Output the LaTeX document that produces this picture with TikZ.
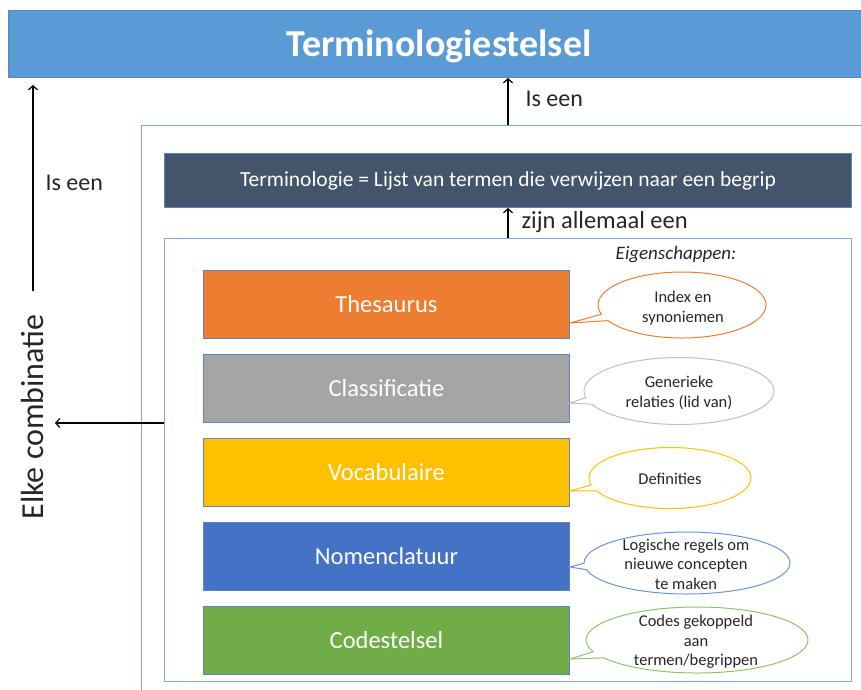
\documentclass[tikz,border=0pt]{standalone}
\usepackage{fontspec}
\setmainfont{Carlito}
\usetikzlibrary{shapes.callouts,arrows.meta}

\definecolor{titleblue}{HTML}{5B9BD5}
\definecolor{slate}{HTML}{44546A}
\definecolor{frameblue}{HTML}{5A86BC}
\definecolor{linkblue}{HTML}{7FA6D6}
\definecolor{cOrange}{HTML}{ED7D31}
\definecolor{cGray}{HTML}{A5A5A5}
\definecolor{cGold}{HTML}{FFC000}
\definecolor{cBlue}{HTML}{4472C4}
\definecolor{cGreen}{HTML}{70AD47}
\definecolor{lnGray}{HTML}{BFBFBF}
\definecolor{lnBlue}{HTML}{6C92D8}
\definecolor{lnGreen}{HTML}{8CC46A}
\definecolor{ink}{HTML}{262626}

\newcommand{\fsz}[2]{\fontsize{#1}{#2}\selectfont}

\tikzset{
  x=1pt, y=-1pt,
  container/.style={draw=linkblue, line width=1.1pt},
  kindbox/.style={draw=frameblue, line width=0.9pt, minimum width=366, minimum height=68,
    inner sep=0pt, text=white, font=\fsz{24.5}{29}},
  bubble/.style={ellipse callout, draw, line width=1pt, fill=white, inner sep=0pt,
    callout pointer arc=12},
  bubbletext/.style={align=center, inner sep=0pt, text=ink, font=\fsz{16.5}{19.5}},
  relarrow/.style={-{Straight Barb[length=4pt,width=9pt]}, line width=1.2pt},
}

\begin{document}
\begin{tikzpicture}
\useasboundingbox (0,0) rectangle (861,689);
\clip (0,0) rectangle (861,689);

% top level: the whole system
\node[fill=titleblue, draw=frameblue, line width=1pt, anchor=north west,
      minimum width=864, minimum height=67, inner sep=0pt] (title) at (8,10) {};
\node[text=white, font=\bfseries\fsz{38}{44}] (titletext) at (439,46) {Terminologiestelsel};

% containers
\node[container, anchor=north west, minimum width=740, minimum height=600, inner sep=0pt] (outer) at (141,125) {};
\node[fill=slate, draw=frameblue, line width=1pt, anchor=north west, minimum width=687,
      minimum height=54, inner sep=0pt, text=white, font=\fsz{21.5}{25}] (term) at (164,153)
      {Terminologie = Lijst van termen die verwijzen naar een begrip};
\node[container, anchor=north west, minimum width=687, minimum height=443, inner sep=0pt] (inner) at (164,238) {};

\node[font=\itshape\fsz{19}{22}, text=ink] (eig) at (676,255) {Eigenschappen:};

% kinds of terminology
\node[kindbox, fill=cOrange, anchor=north west] (thes) at (203,270) {Thesaurus};
\node[kindbox, fill=cGray,   anchor=north west] (clas) at (203,354) {Classificatie};
\node[kindbox, fill=cGold,   anchor=north west] (voca) at (203,438) {Vocabulaire};
\node[kindbox, fill=cBlue,   anchor=north west] (nome) at (203,522) {Nomenclatuur};
\node[kindbox, fill=cGreen,  anchor=north west] (code) at (203,606) {Codestelsel};

% properties
\node[bubble, draw=cOrange, minimum width=168, minimum height=66,
      callout absolute pointer={(570,323)}] (bthes) at (682,305) {};
\node[bubbletext] (tthes) at (683,308) {Index en\\synoniemen};
\node[bubble, draw=lnGray, minimum width=190, minimum height=67,
      callout absolute pointer={(570,403)}] (bclas) at (679,391) {};
\node[bubbletext] (tclas) at (679,393) {Generieke\\relaties (lid van)};
\node[bubble, draw=cGold, minimum width=162, minimum height=61,
      callout absolute pointer={(570,491)}] (bvoca) at (670,478) {};
\node[bubbletext] (tvoca) at (670,479) {Definities};
\node[bubble, draw=lnBlue, minimum width=206, minimum height=62,
      callout absolute pointer={(570,567)}] (bnome) at (687,563) {};
\node[bubbletext] (tnome) at (686,564) {Logische regels om\\nieuwe concepten\\te maken};
\node[bubble, draw=lnGreen, minimum width=222, minimum height=66,
      callout absolute pointer={(570,659)}] (bcode) at (697,640) {};
\node[bubbletext] (tcode) at (696,642) {Codes gekoppeld\\aan\\termen/begrippen};

% relations
\draw[relarrow] (inner.north -| term.south) -- (term.south);
\node[anchor=west, font=\fsz{24.5}{28}, text=ink] (allemaal) at (518,222) {zijn allemaal een};

\draw[relarrow] (term.north |- outer.north) -- (term.north |- title.south);
\node[anchor=west, font=\fsz{24}{28}, text=ink] (iseen1) at (522,99) {Is een};

\coordinate (lefttop) at (33,85);
\coordinate (leftbot) at (33,291);
\draw[relarrow] (leftbot) -- (lefttop);
\node[anchor=west, font=\fsz{24}{28}, text=ink] (iseen2) at (42,183) {Is een};
\node[rotate=90, font=\fsz{32}{36}, text=ink] (elke) at (33,417) {Elke combinatie};
\coordinate (combi) at (55,423);
\draw[relarrow] (inner.west |- combi) -- (combi);
\end{tikzpicture}
\end{document}
